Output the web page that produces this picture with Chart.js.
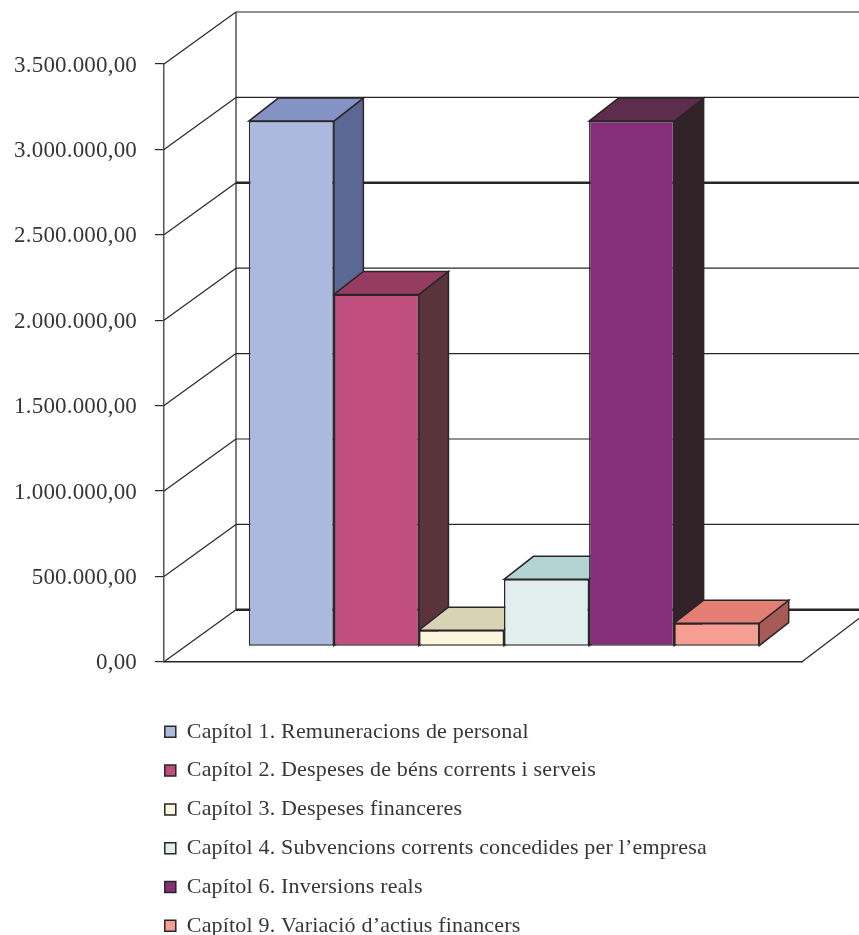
<!DOCTYPE html>
<html>
<head>
<meta charset="utf-8">
<style>
  html, body { margin: 0; padding: 0; background: #fff; }
  canvas { display: block; }
</style>
<script src="https://cdn.jsdelivr.net/npm/chart.js@4"></script>
</head>
<body>
<canvas id="chart" width="859" height="935"></canvas>
<script>
// Data
const categories = [''];
const seriesNames = [
  'Capítol 1. Remuneracions de personal',
  'Capítol 2. Despeses de béns corrents i serveis',
  'Capítol 3. Despeses financeres',
  'Capítol 4. Subvencions corrents concedides per l’empresa',
  'Capítol 6. Inversions reals',
  'Capítol 9. Variació d’actius financers'
];
const seriesValues = [3075000, 2060000, 94000, 392000, 3075000, 135000];
const tickLabels = ['0,00', '500.000,00', '1.000.000,00', '1.500.000,00', '2.000.000,00', '2.500.000,00', '3.000.000,00', '3.500.000,00'];

// Colours: front, top and side faces
const frontColors = ['#abb9de', '#bf4d7e', '#fcf6de', '#e1f0ee', '#852e7a', '#f69e92'];
const topColors = ['#8592c4', '#963c63', '#d9d3b5', '#b3d4d2', '#5e2d4d', '#e37e74'];
const sideColors = ['#5c6894', '#5b333b', '#a9a58c', '#8ba5a3', '#312228', '#a85a57'];

const lineColor = '#2a2527';
const textColor = '#3a3535';

// 3D offsets
const wallDx = 72, wallDy = 52;     // back wall against the front plane
const barDx = 21, barDy = 15.5;     // where the bars stand on the floor
const depthDx = 29.5, depthDy = 23; // depth of each bar

function poly(ctx, pts, fill) {
  ctx.beginPath();
  pts.forEach((p, i) => i ? ctx.lineTo(p[0], p[1]) : ctx.moveTo(p[0], p[1]));
  ctx.closePath();
  ctx.fillStyle = fill;
  ctx.fill();
  ctx.lineWidth = 1.5;
  ctx.strokeStyle = lineColor;
  ctx.stroke();
}

const threeD = {
  id: 'threeD',
  afterLayout(chart) {
    // legend sits under the plot, lined up with the axis, one entry per row
    chart.legend.left = 148;
    chart.legend.right = 725;
    chart.legend.top = 704;
    chart.legend.bottom = 935;
  },
  beforeDraw(chart) {
    chart.ctx.letterSpacing = '0.18px';
  },
  beforeDatasetsDraw(chart) {
    const ctx = chart.ctx;
    const y = chart.scales.y;
    const area = chart.chartArea;

    // walls
    ctx.save();
    ctx.strokeStyle = lineColor;
    y.ticks.forEach((t, i) => {
      const py = y.getPixelForValue(t.value);
      ctx.lineWidth = 1.2;
      ctx.beginPath();
      ctx.moveTo(area.left, py);
      ctx.lineTo(area.left + wallDx, py - wallDy);
      ctx.stroke();
      ctx.lineWidth = (i === 0 || i === 5) ? 2.4 : 1.2;
      ctx.beginPath();
      ctx.moveTo(area.left + wallDx, py - wallDy);
      ctx.lineTo(chart.width, py - wallDy);
      ctx.stroke();
    });
    ctx.lineWidth = 1.2;
    ctx.beginPath();
    ctx.moveTo(area.left + wallDx, area.top - wallDy);
    ctx.lineTo(area.left + wallDx, area.bottom - wallDy);
    // floor edge on the right
    ctx.moveTo(area.right, area.bottom);
    ctx.lineTo(area.right + wallDx, area.bottom - wallDy * 1.05);
    ctx.stroke();

    // top and side faces of the bars, left to right
    seriesValues.forEach((v, i) => {
      const bar = chart.getDatasetMeta(i).data[0];
      const l = bar.x - bar.width / 2 + barDx;
      const r = bar.x + bar.width / 2 + barDx;
      const t = bar.y - barDy;
      const b = bar.base - barDy;
      poly(ctx, [[r, t], [r + depthDx, t - depthDy], [r + depthDx, b - depthDy], [r, b]], sideColors[i]);
      poly(ctx, [[l, t], [l + depthDx, t - depthDy], [r + depthDx, t - depthDy], [r, t]], topColors[i]);
    });
    ctx.restore();

    // the library then draws the front faces, moved back onto the floor
    ctx.save();
    ctx.translate(barDx, -barDy);
  },
  afterDatasetsDraw(chart) {
    chart.ctx.restore();
  }
};

new Chart(document.getElementById('chart').getContext('2d'), {
  type: 'bar',
  data: {
    labels: categories,
    datasets: seriesNames.map((name, i) => ({
      label: name,
      data: [seriesValues[i]],
      backgroundColor: frontColors[i],
      borderColor: lineColor,
      borderWidth: 1.5,
      borderSkipped: false
    }))
  },
  plugins: [threeD],
  options: {
    responsive: false,
    animation: false,
    devicePixelRatio: 1,
    layout: { padding: { top: 64, right: 57, left: 0, bottom: 100 } },
    categoryPercentage: 0.8,
    barPercentage: 1,
    scales: {
      x: {
        ticks: { display: false },
        grid: { display: false },
        border: { color: lineColor, width: 1.5 }
      },
      y: {
        min: 0,
        max: 3500000,
        ticks: {
          stepSize: 500000,
          padding: 18,
          labelOffset: 1.5,
          color: textColor,
          font: { family: '"Liberation Serif"', size: 23 },
          callback: (v, i) => tickLabels[i]
        },
        grid: { drawOnChartArea: false, tickLength: 9, tickColor: lineColor, lineWidth: 1.2 },
        border: { color: '#555', width: 1.5 },
        afterFit: s => { s.width = 164; }
      }
    },
    plugins: {
      tooltip: { enabled: false },
      legend: {
        position: 'bottom',
        align: 'start',
        labels: {
          boxWidth: 11,
          boxHeight: 11,
          padding: 16.8,
          color: textColor,
          font: { family: '"Liberation Serif"', size: 22 }
        }
      }
    }
  }
});
</script>
</body>
</html>
